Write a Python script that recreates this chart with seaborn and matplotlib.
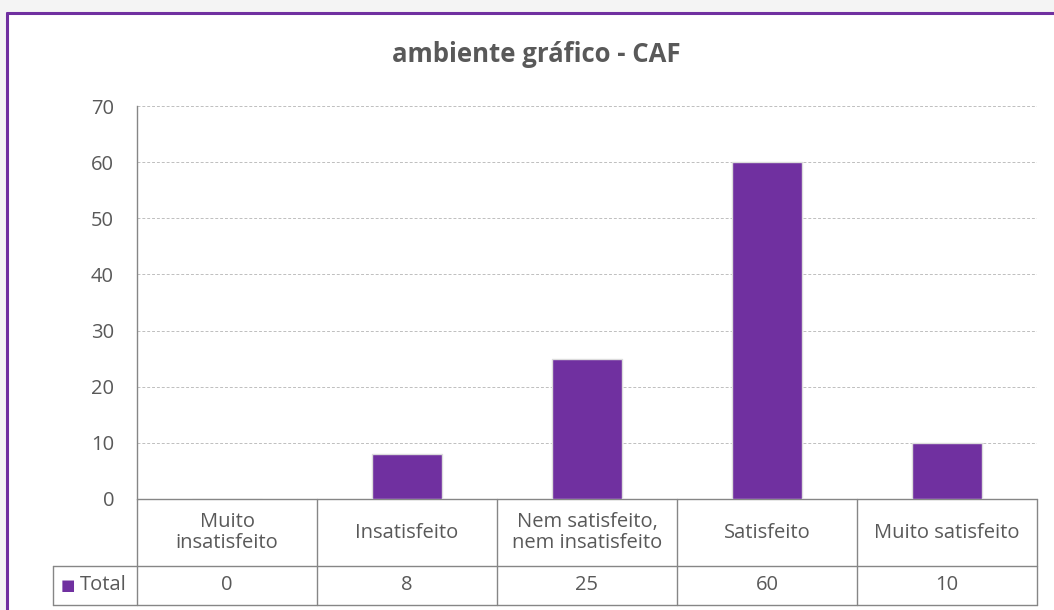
import matplotlib.pyplot as plt
import matplotlib.transforms as mtransforms
from matplotlib.patches import Rectangle
import pandas as pd
import seaborn as sns

categories = ['Muito\ninsatisfeito', 'Insatisfeito', 'Nem satisfeito,\nnem insatisfeito',
              'Satisfeito', 'Muito satisfeito']
totals = [0, 8, 25, 60, 10]
series_name = 'Total'
title = 'ambiente gráfico - CAF'
yticks = [0, 10, 20, 30, 40, 50, 60, 70]

purple = '#7030A0'
text_grey = '#595959'
line_grey = '#868686'
fs = 14.5

sns.set_style('white')
plt.rcParams['font.family'] = ['Open Sans', 'DejaVu Sans']

df = pd.DataFrame({'category': categories, 'value': totals})

fig = plt.figure(figsize=(10.54, 6.10), dpi=100)
fig.patch.set_facecolor('#f4f4f4')

# white chart area with purple frame on top/left
fig.patches.append(Rectangle((7 / 1054, 0), 1.1, (610 - 13) / 610, transform=fig.transFigure,
                             facecolor='white', edgecolor='none', zorder=-5))
fig.add_artist(plt.Line2D([7 / 1054, 7 / 1054], [0, 1 - 13 / 610], color=purple, lw=2.2,
                          transform=fig.transFigure, zorder=-4))
fig.add_artist(plt.Line2D([7 / 1054, 1], [1 - 13 / 610, 1 - 13 / 610], color=purple, lw=2.2,
                          transform=fig.transFigure, zorder=-4))

ax = fig.add_axes([137 / 1054, 1 - 499 / 610, (1037 - 137) / 1054, (499 - 106) / 610])
ax.set_facecolor('none')
ax.set_zorder(2)

sns.barplot(data=df, x='category', y='value', color=purple, width=0.39, ax=ax,
            saturation=1, zorder=3)
for p in ax.patches:
    p.set_edgecolor('#dcdcdc')
    p.set_linewidth(1.0)

ax.set_xlim(-0.5, len(categories) - 0.5)
ax.set_ylim(0, 70)
ax.set_yticks(yticks)
ax.set_yticklabels([str(t) for t in yticks], fontsize=fs, color=text_grey)
ax.tick_params(axis='y', length=0, pad=16.5)
ax.set_xticks([])
ax.set_xlabel('')
ax.set_ylabel('')
ax.yaxis.grid(True, color='#bfbfbf', linestyle=(0, (3, 2)), linewidth=0.7)
ax.set_axisbelow(True)
for side in ['top', 'right', 'bottom']:
    ax.spines[side].set_visible(False)
ax.spines['left'].set_color(line_grey)
ax.spines['left'].set_linewidth(1.0)

fig.text(536 / 1054, 1 - 55 / 610, title, ha='center', va='center', fontsize=18.5,
         fontweight='bold', color=text_grey)

# data table under the axis
trans = mtransforms.blended_transform_factory(ax.transData, ax.transAxes)
h1 = (566 - 499) / 393
h2 = (605 - 499) / 393
n = len(categories)
x0 = -0.5
label_left = -0.5 - 84 / 180
lkw = dict(color=line_grey, lw=1.0, transform=trans, clip_on=False)
ax.plot([x0, n - 0.5], [0, 0], **lkw)
ax.plot([label_left, n - 0.5], [-h1, -h1], **lkw)
ax.plot([label_left, n - 0.5], [-h2, -h2], **lkw)
for i in range(n + 1):
    ax.plot([i - 0.5, i - 0.5], [0, -h2], **lkw)
ax.plot([label_left, label_left], [-h1, -h2], **lkw)

for i, (cat, val) in enumerate(zip(categories, totals)):
    ax.text(i, -h1 / 2, cat, ha='center', va='center', fontsize=fs, color=text_grey,
            transform=trans, linespacing=1.05)
    ax.text(i, -(h1 + h2) / 2, str(val), ha='center', va='center', fontsize=fs,
            color=text_grey, transform=trans)

ax.text(label_left + 0.04, -(h1 + h2) / 2, '\u25a0', ha='left', va='center', fontsize=11,
        color=purple, transform=trans, family='DejaVu Sans')
ax.text(label_left + 0.15, -(h1 + h2) / 2, series_name, ha='left', va='center',
        fontsize=fs, color=text_grey, transform=trans)

fig.savefig('out.png', dpi=100)
